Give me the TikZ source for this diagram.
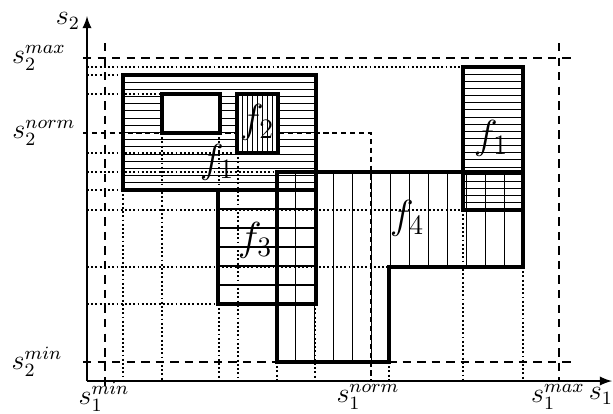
\documentclass[tikz,border=0pt]{standalone}
\begin{document}
\begin{tikzpicture}[x=0.015cm,y=-0.015cm]
	\tikzstyle{box}=[line width=1.3pt]
	\tikzstyle{hatch}=[line width=0.45pt]
	\tikzstyle{grid}=[line width=0.8pt,densely dotted]
	\tikzstyle{guide}=[line width=0.7pt,dash pattern=on 3.6pt off 2.6pt]
	\tikzstyle{normline}=[line width=0.7pt,dash pattern=on 2.2pt off 1.6pt]
	\tikzstyle{lbl}=[font=\large,inner sep=0pt]
	\tikzstyle{fn}=[font=\LARGE,inner sep=0pt]
	\useasboundingbox (0,0) rectangle (613,413);

	% corners of the regions
	\coordinate (O) at (87,381);
	\coordinate (F1a) at (123,75);   \coordinate (F1b) at (316,190);
	\coordinate (Wa) at (162,94);    \coordinate (Wb) at (220,133);
	\coordinate (F2a) at (237,94);   \coordinate (F2b) at (278,153);
	\coordinate (F1c) at (463,67);   \coordinate (F1d) at (523,210);
	\coordinate (F3a) at (218,190);  \coordinate (F3b) at (316,304);

	% dotted grid
	\draw[grid] (87,67) -- (463,67);
	\draw[grid] (87,75) -- (123,75);
	\draw[grid] (87,94) -- (162,94);
	\draw[grid] (87,153) -- (237,153);
	\draw[grid] (87,172) -- (277,172);
	\draw[grid] (87,190) -- (123,190);
	\draw[grid] (87,210) -- (463,210);
	\draw[grid] (87,267) -- (389,267);
	\draw[grid] (87,304) -- (218,304);
	\draw[grid] (123,190) -- (123,381);
	\draw[grid] (162,133) -- (162,381);
	\draw[grid] (219,133) -- (219,190);
	\draw[grid] (219,304) -- (219,381);
	\draw[grid] (238,153) -- (238,381);
	\draw[grid] (277,362) -- (277,381);
	\draw[grid] (315,304) -- (315,381);
	\draw[grid] (389,362) -- (389,381);
	\draw[grid] (463,210) -- (463,381);
	\draw[grid] (523,267) -- (523,381);

	% min, norm and max lines
	\draw[guide] (83,58) -- (575,58);
	\draw[guide] (83,362) -- (575,362);
	\draw[guide] (105,43) -- (105,386);
	\draw[guide] (559,43) -- (559,381);
	\draw[normline] (83,133) -- (371,133) -- (371,381);

	% hatching
	\foreach \k in {1,...,15}
		\draw[hatch] (123,{75+\k*115/16}) -- (316,{75+\k*115/16});
	\foreach \k in {1,...,19}
		\draw[hatch] (463,{67+\k*143/20}) -- (523,{67+\k*143/20});
	\foreach \k in {1,...,5}
		\draw[hatch] (218,{190+\k*19}) -- (316,{190+\k*19});
	\foreach \k in {1,...,5}
		\draw[hatch] ({277+\k*18.92},172) -- ({277+\k*18.92},362);
	\foreach \k in {6,...,12}
		\draw[hatch] ({277+\k*18.92},172) -- ({277+\k*18.92},267);
	\fill[white] (Wa) rectangle (Wb);
	\fill[white] (F2a) rectangle (F2b);
	\foreach \k in {1,...,7}
		\draw[hatch] ({237+\k*41/8},94) -- ({237+\k*41/8},153);

	% regions
	\draw[box] (F1a) rectangle (F1b);
	\draw[box] (Wa) rectangle (Wb);
	\draw[box] (F2a) rectangle (F2b);
	\draw[box] (F1c) rectangle (F1d);
	\draw[box] (F3a) rectangle (F3b);
	\draw[box] (277,172) -- (523,172) -- (523,267) -- (389,267)
		-- (389,362) -- (277,362) -- cycle;

	% axes
	\draw[line width=0.8pt,-latex] (O) -- (87,16);
	\draw[line width=0.8pt,-latex] (O) -- (612,381);

	% labels
	\node[lbl] (s2) at (68,21) {$s_2$};
	\node[lbl] (s1) at (601,396) {$s_1$};
	\node[lbl] (s2max) at (39,58) {$s_2^{max}$};
	\node[lbl] (s2norm) at (44,133) {$s_2^{norm}$};
	\node[lbl] (s2min) at (37,362) {$s_2^{min}$};
	\node[lbl] (s1min) at (104,397) {$s_1^{min}$};
	\node[lbl] (s1norm) at (368,397) {$s_1^{norm}$};
	\node[lbl] (s1max) at (558,397) {$s_1^{max}$};
	\node[fn] (f1) at (217,162) {$f_1$};
	\node[fn] (f1r) at (491,138) {$f_1$};
	\node[fn] (f2) at (257,122) {$f_2$};
	\node[fn] (f3) at (255,240) {$f_3$};
	\node[fn] (f4) at (407,218) {$f_4$};
\end{tikzpicture}
\end{document}
